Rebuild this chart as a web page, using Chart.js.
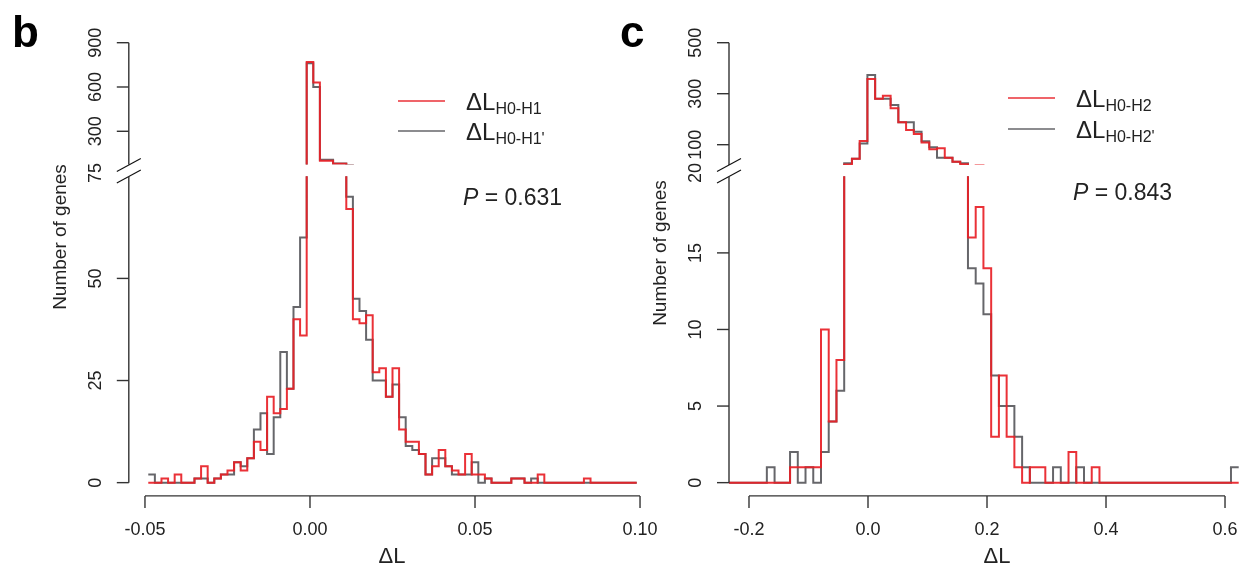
<!DOCTYPE html>
<html>
<head>
<meta charset="utf-8">
<script src="https://cdn.jsdelivr.net/npm/chart.js@4.4.0/dist/chart.umd.min.js"></script>
<style>
  html, body { margin: 0; padding: 0; background: #fff; overflow: hidden; }
  #wrap { position: relative; width: 1244px; height: 569px; }
  #wrap canvas { position: absolute; left: 0; top: 0; }
</style>
</head>
<body>
<div id="wrap">
  <canvas id="bHigh" width="1244" height="569"></canvas>
  <canvas id="bLow" width="1244" height="569"></canvas>
  <canvas id="cHigh" width="1244" height="569"></canvas>
  <canvas id="cLow" width="1244" height="569"></canvas>
</div>
<script>
const W = 1244, H = 569;
const FONT = '"Liberation Sans", Arial, Helvetica, sans-serif';
const RED = "rgba(232, 32, 38, 0.92)";
const GRAY = "rgba(85, 85, 90, 0.9)";
const INK = "#222";

// panel b: histogram of dL H0-H1, bins of 0.002 from -0.049
const bBinStart = -0.049;
const bBinWidth = 0.002;
const bRed = [0, 0, 1, 0, 2, 0, 0, 1, 4, 0, 1, 2, 3, 5, 3, 6, 10, 8, 21, 17,
  18, 23, 40, 36, 770, 630, 100, 100, 80, 80, 67, 40, 39, 41, 27, 28, 21, 28, 13, 10,
  10, 7, 2, 4, 8, 4, 3, 2, 7, 2, 2, 1, 0, 0, 0, 1, 1, 0, 0, 2,
  0, 0, 0, 0, 0, 0, 1, 0, 0, 0, 0, 0, 0, 0];
const bGray = [2, 0, 0, 0, 0, 0, 0, 1, 1, 0, 1, 2, 2, 5, 4, 6, 13, 17, 7, 16,
  32, 23, 43, 60, 760, 600, 108, 108, 82, 82, 70, 45, 42, 35, 25, 25, 21, 24, 16, 9,
  8, 7, 2, 6, 6, 4, 2, 2, 2, 5, 0, 1, 0, 0, 0, 1, 1, 0, 1, 0,
  0, 0, 0, 0, 0, 0, 0, 0, 0, 0, 0, 0, 0, 0];
const bXTicks = [-0.05, 0, 0.05, 0.1];
const bXLabels = ["-0.05", "0.00", "0.05", "0.10"];
const bLowTicks = [0, 25, 50];
const bHighTicks = [300, 600, 900];
const bGap = 75;

// panel c: histogram of dL H0-H2, bins of 0.013 from -0.235
const cBinStart = -0.235;
const cBinWidth = 0.013;
const cRed = [0, 0, 0, 0, 0, 0, 0, 0, 1, 1, 1, 1, 10, 4, 8, 22, 45, 115, 358, 280,
  292, 243, 188, 158, 142, 109, 82, 86, 49, 33, 23, 16, 18, 14, 3, 7, 3, 1, 0, 1,
  1, 0, 0, 0, 2, 0, 0, 1, 0, 0, 0, 0, 0, 0, 0, 0, 0, 0, 0, 0,
  0, 0, 0, 0, 0, 0];
const cGray = [0, 0, 0, 0, 0, 1, 0, 0, 2, 0, 1, 0, 2, 4, 6, 27, 45, 105, 373, 280,
  280, 256, 188, 188, 151, 114, 90, 49, 49, 33, 27, 14, 13, 11, 7, 5, 5, 3, 1, 0,
  0, 0, 1, 0, 0, 1, 0, 0, 0, 0, 0, 0, 0, 0, 0, 0, 0, 0, 0, 0,
  0, 0, 0, 0, 0, 1];
const cXTicks = [-0.2, 0, 0.2, 0.4, 0.6];
const cXLabels = ["-0.2", "0.0", "0.2", "0.4", "0.6"];
const cLowTicks = [0, 5, 10, 15];
const cHighTicks = [100, 300, 500];
const cGap = 20;

function steps(start, width, counts) {
  const pts = counts.map((v, i) => ({ x: start + width * i, y: v }));
  pts.push({ x: start + width * counts.length, y: counts[counts.length - 1] });
  return pts;
}

function line(ctx, x1, y1, x2, y2) {
  ctx.beginPath();
  ctx.moveTo(x1, y1);
  ctx.lineTo(x2, y2);
  ctx.stroke();
}

function vText(ctx, text, x, y, size) {
  ctx.save();
  ctx.translate(x, y);
  ctx.rotate(-Math.PI / 2);
  ctx.font = size + "px " + FONT;
  ctx.textAlign = "center";
  ctx.textBaseline = "alphabetic";
  ctx.fillText(text, 0, 0);
  ctx.restore();
}

// y axis piece: line between two values, ticks + rotated labels
function yAxisPiece(chart, ticks, from, to) {
  const ctx = chart.ctx, y = chart.scales.y, x0 = chart.chartArea.left;
  ctx.save();
  ctx.strokeStyle = "#333";
  ctx.fillStyle = INK;
  ctx.lineWidth = 1.4;
  line(ctx, x0, y.getPixelForValue(from), x0, to);
  ticks.forEach(t => {
    const py = y.getPixelForValue(t);
    line(ctx, x0, py, x0 - 12, py);
    vText(ctx, String(t), x0 - 28, py, 18);
  });
  ctx.restore();
}

function breakMarks(ctx, x0, yA, yB) {
  ctx.save();
  ctx.strokeStyle = "#111";
  ctx.lineWidth = 1.1;
  [yA, yB].forEach(yc => line(ctx, x0 - 12, yc + 6.5, x0 + 12, yc - 6.5));
  ctx.restore();
}

function xAxis(chart, ticks, labels) {
  const ctx = chart.ctx, x = chart.scales.x, yy = chart.chartArea.bottom + 1;
  ctx.save();
  ctx.strokeStyle = "#333";
  ctx.fillStyle = INK;
  ctx.lineWidth = 1.4;
  line(ctx, x.getPixelForValue(ticks[0]), yy, x.getPixelForValue(ticks[ticks.length - 1]), yy);
  ctx.font = "18px " + FONT;
  ctx.textAlign = "center";
  ctx.textBaseline = "alphabetic";
  ticks.forEach((t, i) => {
    const px = x.getPixelForValue(t);
    line(ctx, px, yy, px, yy + 12);
    ctx.fillText(labels[i], px, yy + 39);
  });
  ctx.restore();
}

function legendEntry(ctx, x, y, color, sub) {
  ctx.save();
  ctx.strokeStyle = color;
  ctx.lineWidth = 1.6;
  line(ctx, x, y, x + 47, y);
  ctx.fillStyle = INK;
  ctx.textBaseline = "alphabetic";
  ctx.textAlign = "left";
  ctx.font = "24px " + FONT;
  ctx.fillText("\u0394L", x + 68, y + 9);
  const w = ctx.measureText("\u0394L").width;
  ctx.font = "16px " + FONT;
  ctx.fillText(sub, x + 68 + w, y + 13);
  ctx.restore();
}

function pText(ctx, x, y, value) {
  ctx.save();
  ctx.fillStyle = INK;
  ctx.textBaseline = "alphabetic";
  ctx.textAlign = "left";
  ctx.font = "italic 23px " + FONT;
  ctx.fillText("P", x, y);
  const w = ctx.measureText("P").width;
  ctx.font = "23px " + FONT;
  ctx.fillText(" = " + value, x + w, y);
  ctx.restore();
}

function histChart(id, area, xr, yr, red, gray, deco) {
  return new Chart(document.getElementById(id), {
    type: "line",
    data: {
      datasets: [
        { label: "red", data: red, borderColor: RED, borderWidth: 2, pointRadius: 0, stepped: true, fill: false },
        { label: "gray", data: gray, borderColor: GRAY, borderWidth: 2, pointRadius: 0, stepped: true, fill: false }
      ]
    },
    options: {
      responsive: false,
      animation: false,
      events: [],
      layout: { padding: { left: area.l, top: area.t, right: W - area.r, bottom: H - area.b } },
      scales: {
        x: { type: "linear", min: xr[0], max: xr[1], display: false },
        y: { type: "linear", min: yr[0], max: yr[1], display: false }
      },
      plugins: { legend: { display: false }, tooltip: { enabled: false } }
    },
    plugins: [{ id: id + "Deco", afterDraw: deco }]
  });
}

// ---- panel b ----
const bX = [-0.0549, 0.1049];
histChart("bHigh", { l: 128.8, r: 656.2, t: 42.7, b: 164.5 }, bX, [bGap, 900],
  steps(bBinStart, bBinWidth, bRed), steps(bBinStart, bBinWidth, bGray),
  chart => {
    const ctx = chart.ctx;
    yAxisPiece(chart, bHighTicks, bGap, chart.scales.y.getPixelForValue(900));
    breakMarks(ctx, chart.chartArea.left, 165, 176.5);
    ctx.save();
    ctx.fillStyle = "#000";
    ctx.font = "bold 44px " + FONT;
    ctx.fillText("b", 12, 47);
    ctx.restore();
    legendEntry(ctx, 398, 101, RED, "H0-H1");
    legendEntry(ctx, 398, 131, GRAY, "H0-H1'");
  });

histChart("bLow", { l: 128.8, r: 656.2, t: 176.3, b: 494.9 }, bX, [-3, bGap],
  steps(bBinStart, bBinWidth, bRed), steps(bBinStart, bBinWidth, bGray),
  chart => {
    const ctx = chart.ctx;
    yAxisPiece(chart, bLowTicks, 0, chart.chartArea.top);
    ctx.fillStyle = INK;
    vText(ctx, String(bGap), chart.chartArea.left - 28, 173, 18);
    xAxis(chart, bXTicks, bXLabels);
    ctx.save();
    ctx.fillStyle = INK;
    ctx.font = "22px " + FONT;
    ctx.textAlign = "center";
    ctx.fillText("\u0394L", 392, 563);
    ctx.restore();
    ctx.fillStyle = INK;
    vText(ctx, "Number of genes", 66, 237, 19);
    pText(ctx, 463, 205, "0.631");
  });

// ---- panel c ----
const cX = [-0.2336, 0.6319];
histChart("cHigh", { l: 729, r: 1244, t: 42.7, b: 165.1 }, cX, [cGap, 500],
  steps(cBinStart, cBinWidth, cRed), steps(cBinStart, cBinWidth, cGray),
  chart => {
    const ctx = chart.ctx;
    yAxisPiece(chart, cHighTicks, cGap, chart.scales.y.getPixelForValue(500));
    breakMarks(ctx, chart.chartArea.left, 165, 176.5);
    ctx.save();
    ctx.fillStyle = "#000";
    ctx.font = "bold 44px " + FONT;
    ctx.fillText("c", 620, 47);
    ctx.restore();
    legendEntry(ctx, 1008, 98, RED, "H0-H2");
    legendEntry(ctx, 1008, 129, GRAY, "H0-H2'");
  });

histChart("cLow", { l: 729, r: 1244, t: 176.3, b: 494.9 }, cX, [-0.8, cGap],
  steps(cBinStart, cBinWidth, cRed), steps(cBinStart, cBinWidth, cGray),
  chart => {
    const ctx = chart.ctx;
    yAxisPiece(chart, cLowTicks, 0, chart.chartArea.top);
    ctx.fillStyle = INK;
    vText(ctx, String(cGap), chart.chartArea.left - 28, 173, 18);
    xAxis(chart, cXTicks, cXLabels);
    ctx.save();
    ctx.fillStyle = INK;
    ctx.font = "22px " + FONT;
    ctx.textAlign = "center";
    ctx.fillText("\u0394L", 997, 563);
    ctx.restore();
    ctx.fillStyle = INK;
    vText(ctx, "Number of genes", 666, 253, 19);
    pText(ctx, 1073, 200, "0.843");
  });
</script>
</body>
</html>
